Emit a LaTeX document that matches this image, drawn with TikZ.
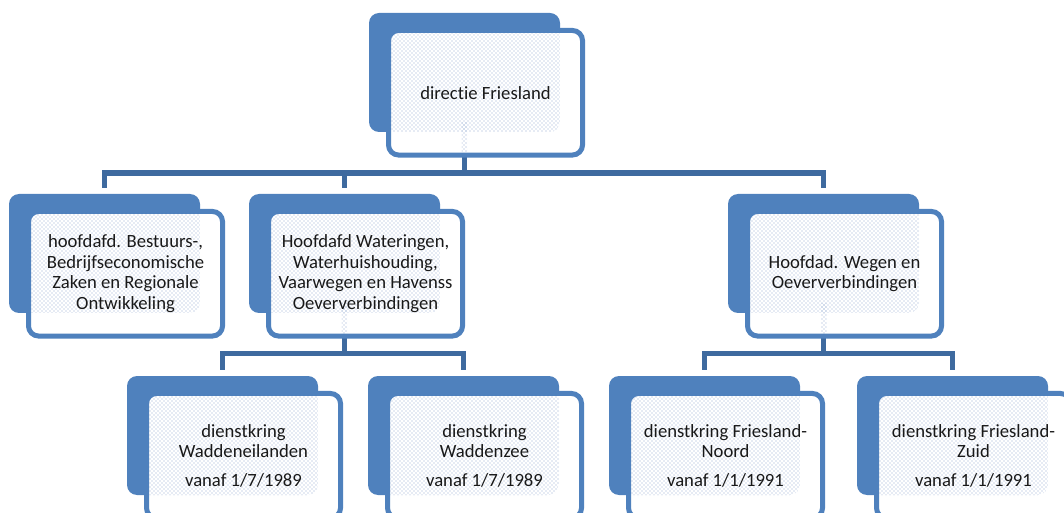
\documentclass[tikz,border=0pt]{standalone}
\usepackage{fontspec}
\setmainfont{Carlito}[Ligatures=NoCommon]
\usetikzlibrary{patterns,calc}
\definecolor{boxblue}{HTML}{4F81BD}
\definecolor{connblue}{HTML}{3E6A9F}
\definecolor{patblue}{HTML}{93ABD3}
\tikzset{
 backbox/.style={fill=boxblue, draw=none, rounded corners=7.5pt, minimum width=143.25pt, minimum height=89.25pt, inner sep=0pt},
 frontbox/.style={draw=boxblue, line width=3.75pt, rounded corners=7.5pt, minimum width=145.5pt, minimum height=93.4pt, inner sep=0pt, align=center, font=\fontsize{14}{15.5}\selectfont, text=black!90},
 conn/.style={draw=connblue, line width=4.1pt},
 patfill/.style={pattern=crosshatch dots, pattern color=patblue},
}
\newcommand\mkback[3]{\node[backbox] (#1B) at ({#2+95.5},{#3+59.5}) {};}
\newcommand\mkfill[4]{%
  \fill[white, rounded corners=7.5pt] ({#2+19.5},{#3+17.5}) rectangle ({#2+213.5},{#3+142});
  \begin{scope}
   \clip[rounded corners=5pt] ({#2+22},{#3+20}) rectangle ({#2+211},{#3+139.5});
   \fill[patfill, rounded corners=7.5pt] (#2,#3) rectangle ({#2+191},{#3+119});
   \ifnum#4=1 \fill[patfill] ({#2+92.75},{#3+110}) rectangle ({#2+98.25},{#3+142});\fi
  \end{scope}
}
\newcommand\mkfront[4]{\node[frontbox] (#1) at ({#2+116.5},{#3+79.75}) {#4};}
\begin{document}
\begin{tikzpicture}[x=0.75pt,y=-0.75pt]
\useasboundingbox (0,0) rectangle (1064,513);
\clip (0,0) rectangle (1064,513);
% back boxes
\mkback{top}{369}{13}
\mkback{la}{9}{194}
\mkback{lb}{249}{194}
\mkback{lc}{728}{194}
\mkback{ma}{127}{376}
\mkback{mb}{368}{376}
\mkback{mc}{609}{376}
\mkback{md}{857}{376}
% connectors
\draw[conn] (topB.south) |- ($(laB.north)+(0,-20.5)$) -- ($(laB.north)+(0,-5.5)$);
\draw[conn] (topB.south) |- ($(lbB.north)+(0,-20.5)$) -- ($(lbB.north)+(0,-5.5)$);
\draw[conn] (topB.south) |- ($(lcB.north)+(0,-20.5)$) -- ($(lcB.north)+(0,-5.5)$);
\draw[conn] (lbB.south) |- ($(maB.north)+(0,-22)$) -- ($(maB.north)+(0,-5.5)$);
\draw[conn] (lbB.south) |- ($(mbB.north)+(0,-22)$) -- ($(mbB.north)+(0,-5.5)$);
\draw[conn] (lcB.south) |- ($(mcB.north)+(0,-22)$) -- ($(mcB.north)+(0,-5.5)$);
\draw[conn] (lcB.south) |- ($(mdB.north)+(0,-22)$) -- ($(mdB.north)+(0,-5.5)$);
% front fills
\mkfill{top}{369}{13}{1}
\mkfill{la}{9}{194}{0}
\mkfill{lb}{249}{194}{1}
\mkfill{lc}{728}{194}{1}
\mkfill{ma}{127}{376}{0}
\mkfill{mb}{368}{376}{0}
\mkfill{mc}{609}{376}{0}
\mkfill{md}{857}{376}{0}
% front boxes with text
\mkfront{top}{369}{13}{directie Friesland}
\mkfront{la}{9}{194}{hoofdafd. Bestuurs-,\\Bedrijfseconomische\\Zaken en Regionale\\Ontwikkeling}
\mkfront{lb}{249}{194}{Hoofdafd Wateringen,\\Waterhuishouding,\\Vaarwegen en Havenss\\Oeververbindingen}
\mkfront{lc}{728}{194}{Hoofdad. Wegen en\\Oeververbindingen}
\mkfront{ma}{127}{376}{dienstkring\\Waddeneilanden\\[6pt]vanaf 1/7/1989}
\mkfront{mb}{368}{376}{dienstkring\\Waddenzee\\[6pt]vanaf 1/7/1989}
\mkfront{mc}{609}{376}{dienstkring Friesland-\\Noord\\[6pt]vanaf 1/1/1991}
\mkfront{md}{857}{376}{dienstkring Friesland-\\Zuid\\[6pt]vanaf 1/1/1991}
\end{tikzpicture}
\end{document}
